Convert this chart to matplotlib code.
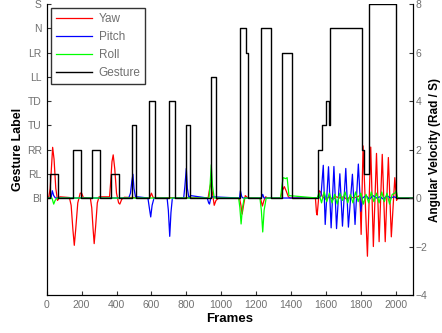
# gesture labels and head angular velocity over frames
import matplotlib
matplotlib.use('Agg')
import matplotlib.pyplot as plt

plt.rcParams['font.family'] = ['Liberation Sans', 'DejaVu Sans']

gesture_names = ['BI', 'RL', 'RR', 'TU', 'TD', 'LL', 'LR', 'N', 'S']

# gesture label (step changes): frame where each level starts
gesture_frames = [0, 19, 66, 149, 194, 261, 305, 367, 413, 487, 512, 589, 621, 699, 735,
                  796, 823, 941, 973, 1109, 1142, 1154, 1229, 1283, 1346, 1403, 1552, 1579,
                  1598, 1615, 1621, 1808, 1816, 1845, 2003, 2100]
gesture_level = [0, 1, 0, 2, 0, 2, 0, 1, 0, 3, 0, 4, 0, 4, 0,
                 3, 0, 5, 0, 7, 6, 0, 7, 0, 6, 0, 2, 3,
                 4, 3, 7, 2, 1, 8, 0, 0]

# yaw (red)
yaw_frames = [0, 12, 20, 30, 34, 42, 52, 62, 75, 130, 140, 150, 158, 166, 178, 192, 200, 210,
              250, 258, 266, 272, 280, 290, 300, 360, 366, 374, 381, 390, 400, 412, 419, 430, 445,
              590, 600, 610, 925, 934, 941, 950, 960, 970, 985, 1105, 1113, 1120, 1128, 1138, 1150,
              1225, 1230, 1236, 1245, 1255, 1265, 1340, 1350, 1362, 1372, 1385, 1395, 1540, 1546,
              1550, 1556, 1562, 1570, 1580, 1600, 1620, 1640, 1660, 1680, 1700, 1720, 1740, 1760,
              1780, 1795, 1802, 1813, 1838, 1857, 1872, 1890, 1905, 1923, 1940, 1958, 1975, 1995,
              2005, 2012, 2100]
yaw_vals = [0.0, 0.05, 0.4, 1.6, 2.09, 1.6, 0.4, -0.1, 0.05, 0.02, -0.3, -1.3, -1.95, -1.3, -0.2, 0.2, 0.2, 0.02,
            0.0, -0.4, -1.3, -1.88, -1.2, -0.2, 0.05, 0.05, 0.6, 1.5, 1.78, 1.2, 0.2, -0.2, -0.25, -0.05, 0.03,
            0.0, 0.2, 0.02, 0.0, 0.4, 0.63, 0.2, -0.3, -0.1, 0.0, 0.0, -0.3, -0.66, -0.3, 0.1, 0.02,
            0.0, -0.15, -0.33, -0.1, 0.05, 0.0, 0.0, 0.3, 0.47, 0.3, 0.05, 0.0, 0.0, -0.6,
            -0.7, -0.2, 0.3, 0.25, 0.05, -0.05, 0.05, -0.05, 0.05, 0.0, 0.05, -0.05, 0.05, 0.0,
            0.05, 0.1, -1.5, 2.15, -2.4, 2.1, -2.0, 1.84, -1.8, 1.8, -1.8, 1.67, -1.6, 0.84,
            -0.1, 0.0, 0.0]

# pitch (blue)
pitch_frames = [0, 25, 32, 40, 50, 470, 480, 488, 494, 500, 510, 520, 580, 588, 596, 604, 615,
                690, 697, 705, 712, 720, 785, 792, 800, 806, 815, 825, 920, 928, 933, 940, 950,
                1105, 1110, 1118, 1125, 1230, 1238, 1245, 1560, 1572, 1585, 1596, 1615, 1630, 1646,
                1661, 1680, 1695, 1714, 1729, 1752, 1767, 1786, 1800, 1810, 1830, 1850, 1870, 1890,
                1910, 1930, 1950, 1970, 1990, 2010, 2100]
pitch_vals = [0.0, 0.0, 0.3, 0.1, 0.0, 0.0, 0.2, 0.7, 0.98, 0.4, 0.0, 0.05, 0.0, -0.4, -0.78, -0.3, 0.0,
              0.0, -0.5, -1.58, -0.6, 0.0, 0.0, 0.5, 1.22, 0.4, 0.0, 0.1, 0.0, -0.2, -0.25, 0.0, 0.05,
              0.0, 0.3, 0.05, 0.0, 0.0, 0.15, 0.0, 0.0, 0.1, 1.35, -1.09, 1.29, -1.23, 1.3,
              -1.26, 1.0, -1.16, 1.22, -1.2, 0.98, -1.09, 1.4, -0.55, 0.0, 0.1, -0.05, 0.1, 0.0,
              0.05, -0.05, 0.1, 0.0, 0.05, 0.0, 0.0]

# roll (green)
roll_frames = [0, 30, 40, 48, 60, 930, 936, 943, 950, 960, 1100, 1107, 1114, 1122, 1132, 1222, 1230,
               1238, 1246, 1258, 1340, 1348, 1355, 1370, 1378, 1388, 1550, 1560, 1575, 1590, 1605,
               1620, 1635, 1650, 1665, 1680, 1695, 1710, 1725, 1740, 1755, 1770, 1785, 1800, 1815,
               1830, 1845, 1860, 1875, 1890, 1905, 1920, 1935, 1950, 1965, 1980, 1995, 2003, 2012, 2100]
roll_vals = [0.0, 0.0, -0.25, -0.1, 0.0, 0.0, 0.5, 1.37, 0.5, 0.0, 0.0, -0.4, -1.07, -0.4, 0.0, 0.0, -0.5,
             -1.4, -0.5, 0.0, 0.0, 0.5, 0.84, 0.8, 0.84, 0.1, 0.0, 0.2, -0.2, 0.25, -0.15,
             0.2, -0.2, 0.15, -0.25, 0.2, -0.1, 0.25, -0.2, 0.15, -0.2, 0.25, -0.15, 0.2, -0.25,
             0.15, -0.2, 0.25, -0.15, 0.2, -0.2, 0.25, -0.15, 0.2, -0.25, 0.15, 0.2, 0.3, 0.0, 0.0]

fig = plt.figure(figsize=(4.42, 3.33), dpi=100)
ax = fig.add_axes([0.1057, 0.114, 0.829, 0.874])

ax.plot(yaw_frames, yaw_vals, color='#ff0000', lw=0.9, label='Yaw')
ax.plot(pitch_frames, pitch_vals, color='#0000ff', lw=0.9, label='Pitch')
ax.plot(roll_frames, roll_vals, color='#00ff00', lw=0.9, label='Roll')
ax.plot(gesture_frames, gesture_level, color='black', lw=1.0, drawstyle='steps-post', label='Gesture')

ax.set_xlim(0, 2100)
ax.set_ylim(-4, 8)
ax.set_xticks(range(0, 2001, 200))
ax.set_yticks(range(0, 9))
ax.set_yticklabels(gesture_names)
ax.spines['top'].set_visible(False)
ax.tick_params(direction='in', length=3, labelsize=7.5, labelcolor='#707070', color='#333333')
ax.set_xlabel('Frames', fontsize=9.5, fontweight='bold', labelpad=2)
ax.set_ylabel('Gesture Label', fontsize=9, fontweight='bold', labelpad=2)

ax2 = ax.twinx()
ax2.set_ylim(-4, 8)
ax2.set_yticks(range(-4, 9, 2))
ax2.spines['top'].set_visible(False)
ax2.tick_params(direction='in', length=3, labelsize=7.5, labelcolor='#707070', color='#333333',
                pad=2)
ax2.set_ylabel('Angular Velocity (Rad / S)', fontsize=8.5, fontweight='bold', labelpad=1)

leg = ax.legend(loc='upper left', bbox_to_anchor=(0.013, 0.985), borderaxespad=0, fontsize=8.5,
                frameon=True, fancybox=False, edgecolor='black', handlelength=3.0,
                labelspacing=0.5, borderpad=0.4, handletextpad=0.6)
leg.get_frame().set_linewidth(1.0)
for t in leg.get_texts():
    t.set_color('#707070')

plt.savefig('out.png', dpi=100)
